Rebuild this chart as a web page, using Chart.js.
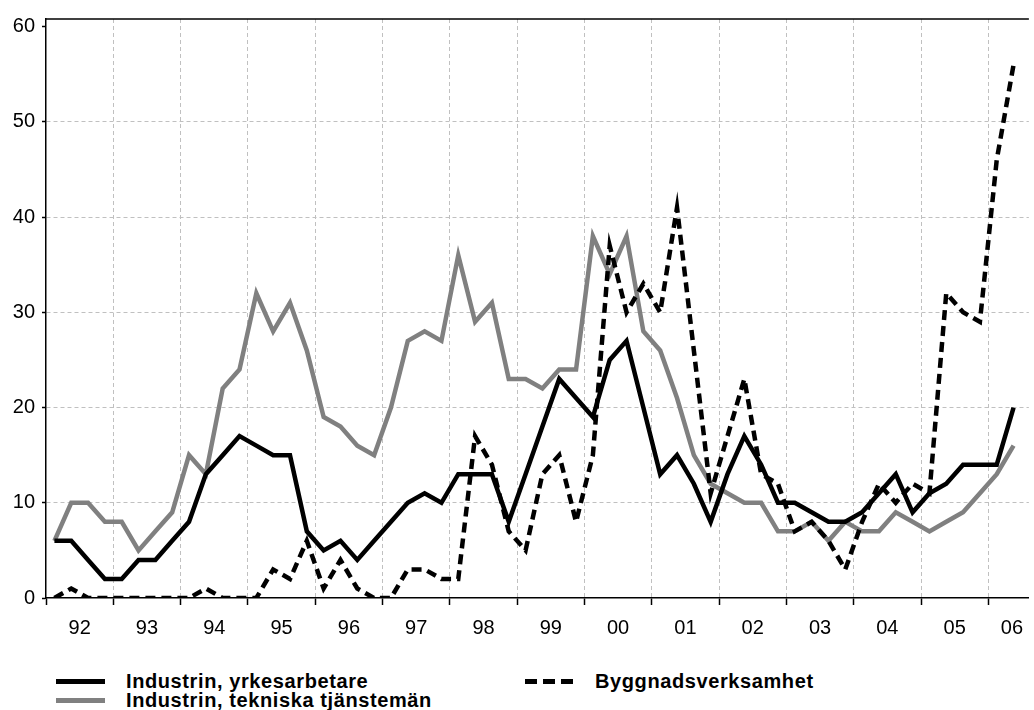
<!DOCTYPE html>
<html>
<head>
<meta charset="utf-8">
<script src="https://cdn.jsdelivr.net/npm/chart.js@4.4.1/dist/chart.umd.min.js"></script>
<style>
	body { margin: 0; background: #fff; }
	#wrap { position: relative; width: 1034px; height: 710px; overflow: hidden; }
	#chartBox { position: absolute; left: 0; top: 0; width: 1034px; height: 660px; }
	.legText { position: absolute; font: bold 20px "Liberation Sans", Arial, sans-serif; letter-spacing: 0.6px; color: #000; white-space: nowrap; line-height: 20px; }
	.legLine { position: absolute; height: 5px; width: 49px; }
</style>
</head>
<body>
<div id="wrap">
	<div id="chartBox"><canvas id="chart"></canvas></div>
	<div id="legend"></div>
</div>
<script>
	// one label per year, one value per quarter (1992 Q1 - 2006 Q2)
	var years = ["92", "93", "94", "95", "96", "97", "98", "99", "00", "01", "02", "03", "04", "05", "06"];
	var yrkesarbetare = [6, 6, 4, 2, 2, 4, 4, 6, 8, 13, 15, 17, 16, 15, 15, 7, 5, 6, 4, 6,
		8, 10, 11, 10, 13, 13, 13, 8, 13, 18, 23, 21, 19, 25, 27, 20, 13, 15, 12, 8,
		13, 17, 14, 10, 10, 9, 8, 8, 9, 11, 13, 9, 11, 12, 14, 14, 14, 20];
	var tekniska = [6, 10, 10, 8, 8, 5, 7, 9, 15, 13, 22, 24, 32, 28, 31, 26, 19, 18, 16, 15,
		20, 27, 28, 27, 36, 29, 31, 23, 23, 22, 24, 24, 38, 34, 38, 28, 26, 21, 15, 12,
		11, 10, 10, 7, 7, 8, 6, 8, 7, 7, 9, 8, 7, 8, 9, 11, 13, 16];
	var byggnad = [0, 1, 0, 0, 0, 0, 0, 0, 0, 1, 0, 0, 0, 3, 2, 6, 1, 4, 1, 0,
		0, 3, 3, 2, 2, 17, 14, 7, 5, 13, 15, 8, 15, 37, 30, 33, 30, 41, 26, 11,
		17, 23, 13, 12, 7, 8, 6, 3, 8, 12, 10, 12, 11, 32, 30, 29, 46, 56];
	var yTicks = [0, 10, 20, 30, 40, 50, 60];

	var FONT = "'Liberation Sans', Arial, sans-serif";
	var GRID = "#c0c0c0";

	function toPoints(values)
	{
		return values.map(function(v, i) { return { x: i + 0.5, y: v }; });
	}

	// year boundaries get grid lines, year centres get the labels
	var yearLabel = {};
	var xTicks = [];
	for (var k = 0; k < years.length; k++)
	{
		if (k > 0) xTicks.push(k * 4);
		var pos = (k == years.length - 1) ? 57.4 : k * 4 + 2;
		yearLabel[pos] = years[k];
		xTicks.push(pos);
	}
	xTicks.unshift(0);
	xTicks.sort(function(a, b) { return a - b; });

	var topLine = {
		id: 'topLine',
		afterDraw: function(chart)
		{
			var a = chart.chartArea;
			var ctx = chart.ctx;
			ctx.save();
			ctx.strokeStyle = "#000";
			ctx.lineWidth = 1.5;
			ctx.beginPath();
			ctx.moveTo(a.left, a.top);
			ctx.lineTo(a.right, a.top);
			ctx.stroke();
			ctx.restore();
		}
	};

	var series = [
		{ label: "Industrin, yrkesarbetare", data: yrkesarbetare, color: "#000000", dash: [], order: 2 },
		{ label: "Industrin, tekniska tjänstemän", data: tekniska, color: "#808080", dash: [], order: 3 },
		{ label: "Byggnadsverksamhet", data: byggnad, color: "#000000", dash: [10, 6], order: 1 }
	];

	window.onload = function()
	{
		var ctx = document.getElementById('chart').getContext('2d');
		var chartConfig =
		{
			type: 'line',
			data:
			{
				datasets: series.map(function(s) {
					return {
						label: s.label,
						data: toPoints(s.data),
						borderColor: s.color,
						borderWidth: 4.5,
						borderDash: s.dash,
						borderJoinStyle: 'miter',
						pointRadius: 0,
						tension: 0,
						fill: false,
						order: s.order
					};
				})
			},
			options:
			{
				responsive: true,
				maintainAspectRatio: false,
				animation: false,
				layout: { padding: { top: 15, left: 0, right: 0, bottom: 0 } },
				plugins: { legend: { display: false }, tooltip: { enabled: false } },
				scales:
				{
					x: {
						type: 'linear',
						min: 0,
						max: 58.41,
						afterBuildTicks: function(scale) { scale.ticks = xTicks.map(function(v) { return { value: v }; }); },
						afterFit: function(scale) { scale.height = 62; },
						grid: {
							color: function(c) { return (c.tick && c.tick.value > 0 && c.tick.value % 4 == 0) ? GRID : 'rgba(0,0,0,0)'; },
							lineWidth: 1,
							tickLength: 7,
							tickWidth: 1.5,
							tickColor: function(c) { return (c.tick && c.tick.value % 4 == 0) ? '#000' : 'rgba(0,0,0,0)'; }
						},
						border: { color: '#000', width: 1.5, dash: [4, 3] },
						ticks: {
							autoSkip: false,
							maxRotation: 0,
							padding: 11,
							color: '#000',
							font: { family: FONT, size: 20 },
							callback: function(v) { return yearLabel[v] || ''; }
						}
					},
					y: {
						min: 0,
						max: 60.8,
						afterBuildTicks: function(scale) { scale.ticks = yTicks.map(function(v) { return { value: v }; }); },
						afterFit: function(scale) { scale.width = 46; },
						grid: {
							color: function(c) { return (c.tick && c.tick.value > 0 && c.tick.value < 60) ? GRID : 'rgba(0,0,0,0)'; },
							lineWidth: 1,
							tickLength: 4,
							tickWidth: 1.5,
							tickColor: '#000'
						},
						border: { color: '#000', width: 1.5, dash: [4, 3] },
						ticks: {
							padding: 7,
							color: '#000',
							font: { family: FONT, size: 20 }
						}
					}
				}
			},
			plugins: [topLine]
		};
		var chart = new Chart(ctx, chartConfig);
		drawLegend();
	};

	function drawLegend()
	{
		// two columns: yrkesarbetare / tekniska on the left, byggnad on the right
		var spots = [
			{ s: series[0], x: 56, y: 681 },
			{ s: series[1], x: 56, y: 700 },
			{ s: series[2], x: 525, y: 681 }
		];
		var box = document.getElementById('legend');
		spots.forEach(function(p)
		{
			var line = document.createElement('div');
			line.className = 'legLine';
			line.style.left = p.x + 'px';
			line.style.top = (p.y - 2.5) + 'px';
			if (p.s.dash.length)
				line.style.background = 'repeating-linear-gradient(to right, ' + p.s.color + ' 0 12px, transparent 12px 18px)';
			else
				line.style.background = p.s.color;
			box.appendChild(line);
			var txt = document.createElement('div');
			txt.className = 'legText';
			txt.style.left = (p.x + 70) + 'px';
			txt.style.top = (p.y - 10) + 'px';
			txt.textContent = p.s.label;
			box.appendChild(txt);
		});
	}
</script>
</body>
</html>
